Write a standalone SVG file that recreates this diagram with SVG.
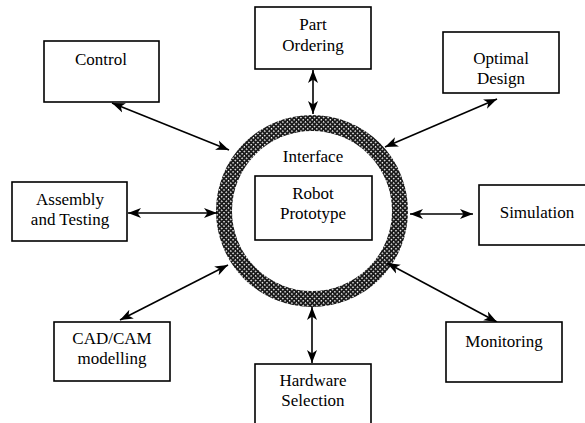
<svg xmlns="http://www.w3.org/2000/svg" width="585" height="423" viewBox="0 0 585 423">
  <style>
    .box { fill: #ffffff; stroke: #000000; stroke-width: 1.6; }
    text { font-family: 'Liberation Serif', 'DejaVu Serif', serif; font-size: 17px; fill: #000000; text-anchor: middle; }
    .conn { stroke: #000000; stroke-width: 1.6; fill: none; marker-start: url(#arr); marker-end: url(#arr); }
  </style>
  <defs>
    <marker id="arr" markerUnits="userSpaceOnUse" markerWidth="14" markerHeight="12" refX="13" refY="5" orient="auto-start-reverse" viewBox="0 0 14 10">
      <path d="M0,0 L13,5 L0,10 L3.5,5 Z" fill="#000000"/>
    </marker>
    <pattern id="hatch" width="3.2" height="3.2" patternUnits="userSpaceOnUse" patternTransform="rotate(45)">
      <rect width="3.2" height="3.2" fill="#1a1a1a"/>
      <rect x="0.8" y="0.8" width="1.4" height="1.4" fill="#ffffff"/>
    </pattern>
  </defs>
  <rect width="585" height="423" fill="#ffffff"/>

  <g id="interface">
    <circle cx="312" cy="211" r="88" fill="none" stroke="url(#hatch)" stroke-width="16"/>
    <text x="313" y="162">Interface</text>
  </g>

  <g id="connectors">
    <line class="conn" x1="112" y1="103" x2="229" y2="150"/>
    <line class="conn" x1="313" y1="70" x2="313" y2="114"/>
    <line class="conn" x1="497" y1="99" x2="385" y2="147"/>
    <line class="conn" x1="128" y1="213" x2="217" y2="213"/>
    <line class="conn" x1="120" y1="320" x2="228" y2="265"/>
    <line class="conn" x1="312" y1="307" x2="312" y2="363"/>
    <line class="conn" x1="410" y1="214" x2="473" y2="214"/>
    <line class="conn" x1="387" y1="263" x2="497" y2="322"/>
  </g>

  <g id="robot">
    <rect class="box" x="255" y="176" width="117" height="64"/>
    <text x="313" y="199">Robot</text>
    <text x="313" y="219">Prototype</text>
  </g>

  <g id="control">
    <rect class="box" x="44" y="41" width="115" height="61"/>
    <text x="101" y="65">Control</text>
  </g>

  <g id="part-ordering">
    <rect class="box" x="255" y="7" width="116" height="62"/>
    <text x="313" y="30">Part</text>
    <text x="313" y="51">Ordering</text>
  </g>

  <g id="optimal-design">
    <rect class="box" x="443" y="32" width="116" height="61"/>
    <text x="501" y="64">Optimal</text>
    <text x="501" y="84">Design</text>
  </g>

  <g id="assembly">
    <rect class="box" x="12" y="182" width="115" height="59"/>
    <text x="70" y="205">Assembly</text>
    <text x="70" y="225">and Testing</text>
  </g>

  <g id="simulation">
    <rect class="box" x="479" y="185" width="110" height="60"/>
    <text x="537" y="218">Simulation</text>
  </g>

  <g id="cadcam">
    <rect class="box" x="54" y="322" width="116" height="59"/>
    <text x="112" y="344">CAD/CAM</text>
    <text x="112" y="364">modelling</text>
  </g>

  <g id="hardware">
    <rect class="box" x="255" y="364" width="116" height="64"/>
    <text x="313" y="386">Hardware</text>
    <text x="313" y="406">Selection</text>
  </g>

  <g id="monitoring">
    <rect class="box" x="446" y="322" width="116" height="60"/>
    <text x="504" y="347">Monitoring</text>
  </g>
</svg>
